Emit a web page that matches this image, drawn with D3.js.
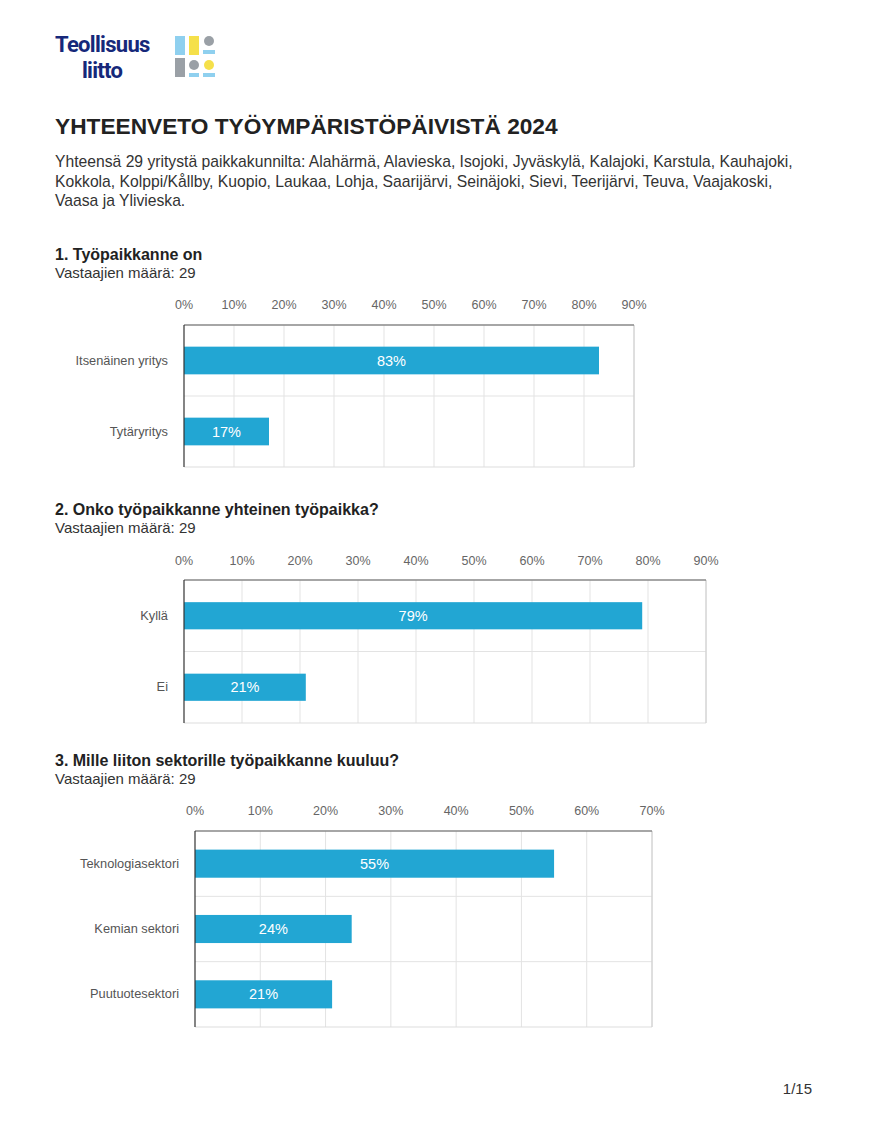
<!DOCTYPE html>
<html><head><meta charset="utf-8">
<script src="https://cdn.jsdelivr.net/npm/d3@7"></script>
<style>body{margin:0;background:#fff;font-family:"Liberation Sans",Arial,sans-serif}</style>
</head><body>
<svg id="c" width="870" height="1126"></svg>
<script>
const q1Categories = ["Itsenäinen yritys", "Tytäryritys"];
const q1Values = [83, 17];
const q1Ticks = [0,10,20,30,40,50,60,70,80,90];
const q2Categories = ["Kyllä", "Ei"];
const q2Values = [79, 21];
const q2Ticks = [0,10,20,30,40,50,60,70,80,90];
const q3Categories = ["Teknologiasektori", "Kemian sektori", "Puutuotesektori"];
const q3Values = [55, 24, 21];
const q3Ticks = [0,10,20,30,40,50,60,70];

const svg = d3.select("#c");
const lg = svg.append("g");
lg.append("text").attr("x",55).attr("y",52).attr("font-size",22).attr("font-weight","bold").attr("fill","#16287a").attr("letter-spacing","-0.7").attr("font-family","Roboto, sans-serif").text("Teollisuus");
lg.append("text").attr("x",82).attr("y",78).attr("font-size",22).attr("font-weight","bold").attr("fill","#16287a").attr("letter-spacing","-0.7").attr("font-family","Roboto, sans-serif").text("liitto");
lg.append("rect").attr("x",175).attr("y",36).attr("width",10).attr("height",19).attr("fill","#8fd0ef");
lg.append("rect").attr("x",189).attr("y",36).attr("width",10).attr("height",19).attr("fill","#f5e04a");
lg.append("circle").attr("cx",209).attr("cy",41).attr("r",5).attr("fill","#9aa0a6");
lg.append("rect").attr("x",203).attr("y",50).attr("width",12).attr("height",4).attr("fill","#8fd0ef");
lg.append("rect").attr("x",175).attr("y",58).attr("width",10).attr("height",19).attr("fill","#9aa0a6");
lg.append("circle").attr("cx",194).attr("cy",65).attr("r",5).attr("fill","#9aa0a6");
lg.append("circle").attr("cx",209).attr("cy",65).attr("r",5).attr("fill","#f5e04a");
lg.append("rect").attr("x",189).attr("y",73).attr("width",10).attr("height",4).attr("fill","#8fd0ef");
lg.append("rect").attr("x",203).attr("y",73).attr("width",12).attr("height",4).attr("fill","#8fd0ef");

svg.append("text").attr("x",55).attr("y",134).attr("font-size",22.7).attr("font-weight","bold").attr("fill","#222").text("YHTEENVETO TYÖYMPÄRISTÖPÄIVISTÄ 2024");
const intro = ["Yhteensä 29 yritystä paikkakunnilta: Alahärmä, Alavieska, Isojoki, Jyväskylä, Kalajoki, Karstula, Kauhajoki,",
"Kokkola, Kolppi/Kållby, Kuopio, Laukaa, Lohja, Saarijärvi, Seinäjoki, Sievi, Teerijärvi, Teuva, Vaajakoski,",
"Vaasa ja Ylivieska."];
intro.forEach((t,i)=>svg.append("text").attr("x",55).attr("y",167+i*19.5).attr("font-size",15.7).attr("fill","#333").text(t));

function chart(title, ytop, cats, vals, ticks, x0, x1, top, bottom, bandPad, tickY) {
  svg.append("text").attr("x",55).attr("y",ytop).attr("font-size",16).attr("font-weight","bold").attr("fill","#222").text(title);
  svg.append("text").attr("x",55).attr("y",ytop+18).attr("font-size",15).attr("fill","#333").text("Vastaajien määrä: 29");
  const x = d3.scaleLinear().domain([0, ticks[ticks.length-1]]).range([x0,x1]);
  const y = d3.scaleBand().domain(cats).range([top,bottom]).paddingInner(0).paddingOuter(0);
  const g = svg.append("g");
  g.selectAll(".gv").data(ticks.slice(1)).join("line").attr("x1",d=>x(d)).attr("x2",d=>x(d)).attr("y1",top).attr("y2",bottom).attr("stroke","#e3e3e3");
  g.selectAll(".gh").data(cats.slice(1)).join("line").attr("x1",x0).attr("x2",x1).attr("y1",d=>y(d)).attr("y2",d=>y(d)).attr("stroke","#e3e3e3");
  g.append("line").attr("x1",x0).attr("x2",x1).attr("y1",bottom).attr("y2",bottom).attr("stroke","#ddd");
  g.append("line").attr("x1",x1).attr("x2",x1).attr("y1",top).attr("y2",bottom).attr("stroke","#ccc");
  g.append("line").attr("x1",x0).attr("x2",x1).attr("y1",top).attr("y2",top).attr("stroke","#888").attr("stroke-width",1.5);
  g.selectAll(".tl").data(ticks).join("text").attr("x",d=>x(d)).attr("y",tickY).attr("text-anchor","middle").attr("font-size",12.5).attr("fill","#666").text(d=>d+"%");
  const bh = y.bandwidth()*bandPad;
  g.selectAll(".b").data(cats).join("rect").attr("x",x0).attr("y",d=>y(d)+(y.bandwidth()-bh)/2).attr("width",(d,i)=>x(vals[i])-x0).attr("height",bh).attr("fill","#22a6d3");
  g.selectAll(".bl").data(cats).join("text").attr("x",(d,i)=>(x0+x(vals[i]))/2).attr("y",d=>y(d)+y.bandwidth()/2+5).attr("text-anchor","middle").attr("font-size",14.5).attr("fill","#fff").text((d,i)=>vals[i]+"%");
  g.selectAll(".cl").data(cats).join("text").attr("x",x0-16).attr("y",d=>y(d)+y.bandwidth()/2+4).attr("text-anchor","end").attr("font-size",12.8).attr("fill","#555").text(d=>d);
  g.append("line").attr("x1",x0).attr("x2",x0).attr("y1",top).attr("y2",bottom).attr("stroke","#333").attr("stroke-width",1.2);
}
chart("1. Työpaikkanne on", 260, q1Categories, q1Values, q1Ticks, 184, 634, 325, 467, 0.39, 309);
chart("2. Onko työpaikkanne yhteinen työpaikka?", 515, q2Categories, q2Values, q2Ticks, 184, 706, 580, 723, 0.38, 565);
chart("3. Mille liiton sektorille työpaikkanne kuuluu?", 766, q3Categories, q3Values, q3Ticks, 195, 652, 831, 1027, 0.43, 815);

svg.append("text").attr("x",812).attr("y",1094).attr("text-anchor","end").attr("font-size",15).attr("fill","#333").text("1/15");
</script>
</body></html>
